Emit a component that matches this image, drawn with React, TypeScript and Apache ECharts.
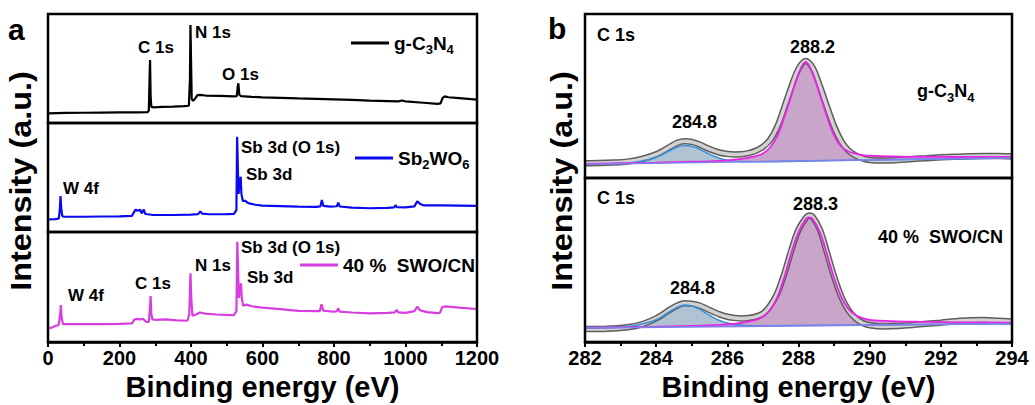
import React, { useEffect, useRef } from 'react';
import * as echarts from 'echarts';

// ---------- Panel a : XPS survey spectra (binding energy eV, intensity a.u.) ----------
const SURVEY_X_MIN = 0;
const SURVEY_X_MAX = 1200;
const SURVEY_X_STEP = 200;

const surveyGCN: number[][] = [
  [0, 8.9], [50, 9.2], [100, 9.4], [150, 9.6], [200, 9.7], [250, 9.8], [278, 9.9], [282, 11.5], [284, 40], [285.5, 57.8],
  [287, 25], [289, 14.8], [295, 14.4], [320, 14.8], [350, 15.0], [380, 15.4], [394, 15.8], [397, 40], [398.5, 89.9],
  [400, 60], [402, 22], [406, 20.5], [412, 22.5], [418, 25.5], [425, 25.8], [440, 25.2], [480, 24.9], [520, 24.5],
  [528, 24.6], [531, 34], [532.5, 36.4], [535, 26], [540, 24.6], [570, 24.0], [600, 23.6], [650, 23.1], [700, 22.6],
  [750, 22.2], [800, 21.7], [850, 21.2], [900, 20.6], [950, 20.1], [980, 19.8], [990, 20.6], [1000, 19.8], [1050, 18.6],
  [1090, 17.5], [1098, 18.0], [1104, 23.0], [1110, 24.4], [1120, 23.6], [1150, 22.8], [1200, 21.5],
];

const surveySWO: number[][] = [
  [0, 11.5], [20, 11.8], [30, 12.2], [33, 20], [35, 33], [37, 22], [40, 14.5], [45, 14.1], [100, 14.0], [150, 14.2],
  [200, 14.4], [235, 14.8], [240, 18], [245, 20.5], [250, 19.5], [258, 20.5], [262, 17], [268, 20.5], [272, 16.5],
  [290, 15.8], [350, 15.6], [400, 16.0], [420, 16.4], [426, 18.8], [432, 16.8], [450, 16.3], [500, 16.4], [520, 16.6],
  [527, 20], [529, 87.4], [531, 60], [533, 35], [536, 45], [539, 50.7], [541, 35], [545, 28.5], [552, 28.5], [560, 26.5],
  [580, 25], [600, 24.2], [650, 23.8], [700, 23.3], [750, 23.0], [762, 23.5], [766, 29.4], [770, 24], [790, 23.2],
  [808, 23.6], [812, 26.9], [816, 23.4], [850, 22.4], [900, 21.8], [950, 22.2], [968, 22.6], [972, 24.5], [976, 22.8],
  [1000, 22.6], [1025, 23.5], [1033, 28.2], [1040, 26], [1050, 24.5], [1100, 24.4], [1150, 24.2], [1200, 24.0],
];

const surveyComposite: number[][] = [
  [0, 12.5], [10, 13.0], [20, 14.5], [30, 15.5], [34, 25], [36, 33.6], [38, 22], [42, 16.3], [100, 16.2], [150, 16.3],
  [200, 16.5], [235, 17.0], [242, 20.5], [250, 21], [258, 20.5], [266, 21.0], [275, 18.2], [282, 18.3], [285, 30],
  [287, 41.8], [289, 26], [292, 20.5], [300, 20.2], [330, 20.5], [360, 19.6], [390, 19.3], [395, 25], [398.5, 62.4],
  [401, 38], [404, 24], [415, 25], [425, 26.8], [440, 25.8], [470, 25.0], [500, 24.6], [520, 24.5], [527, 28],
  [529.5, 91.2], [532, 62], [534, 40], [537, 48], [540, 53.3], [542, 40], [546, 33], [555, 34], [570, 32.5], [600, 31.2],
  [650, 29.8], [700, 28.3], [760, 28.0], [765, 34.2], [770, 28.5], [800, 27.5], [808, 28], [812, 30.6], [816, 27.6],
  [850, 26.8], [900, 26.1], [950, 26.4], [970, 27], [975, 29.1], [980, 27], [1000, 26.5], [1025, 28], [1033, 32.1],
  [1040, 29], [1060, 27.2], [1090, 26.2], [1096, 26.5], [1103, 31.8], [1110, 32.3], [1150, 31.2], [1200, 30.0],
];

// ---------- Panel b : C 1s high-resolution spectra ----------
const C1S_X_MIN = 282;
const C1S_X_MAX = 294;
const C1S_X_STEP = 2;

const c1sGCNRaw: number[][] = [
  [282.0, 9.0], [282.4, 9.1], [282.8, 9.4], [283.2, 10.0], [283.6, 11.6], [284.0, 14.4], [284.2, 16.6], [284.4, 19.2],
  [284.6, 21.5], [284.8, 22.4], [285.0, 22.0], [285.2, 20.6], [285.4, 18.6], [285.6, 16.8], [285.8, 15.4], [286.0, 14.7],
  [286.2, 14.4], [286.4, 14.5], [286.6, 15.2], [286.8, 16.6], [287.0, 19.0], [287.2, 23.2], [287.4, 31.0], [287.6, 43.0],
  [287.8, 55.5], [288.0, 66.5], [288.2, 71.3], [288.4, 67.0], [288.6, 56.0], [288.8, 43.5], [289.0, 31.5], [289.2, 22.5],
  [289.4, 16.8], [289.6, 13.8], [289.8, 12.0], [290.0, 11.0], [290.4, 10.6], [290.8, 11.0], [291.2, 11.6], [291.6, 12.1],
  [292.0, 12.6], [292.4, 13.0], [292.8, 13.3], [293.2, 13.4], [293.6, 13.4], [294.0, 13.1],
];
const c1sGCNPeak1: number[][] = [
  [282.0, 8.5], [283.0, 8.9], [283.4, 9.6], [283.8, 11.2], [284.0, 12.6], [284.2, 14.6], [284.4, 16.9], [284.6, 18.9],
  [284.8, 19.8], [285.0, 19.4], [285.2, 17.8], [285.4, 15.6], [285.6, 13.5], [285.8, 11.9], [286.0, 10.9], [286.4, 10.0],
  [287.0, 9.9], [288.0, 10.3], [290.0, 11.0], [294.0, 12.3],
];
const c1sGCNPeak2: number[][] = [
  [282.0, 8.6], [284.0, 9.4], [285.0, 9.9], [285.6, 10.3], [286.0, 10.8], [286.4, 11.6], [286.8, 13.3], [287.0, 15.0],
  [287.2, 18.6], [287.4, 25.5], [287.6, 37.0], [287.8, 50.5], [288.0, 63.5], [288.2, 70.8], [288.4, 64.0], [288.6, 51.0],
  [288.8, 37.5], [289.0, 26.0], [289.2, 19.2], [289.4, 16.2], [289.6, 14.8], [289.8, 14.0], [290.0, 13.6], [290.6, 13.1],
  [291.5, 12.9], [292.5, 12.8], [294.0, 12.9],
];
const c1sGCNBackground: number[][] = [[282.0, 8.4], [294.0, 12.3]];

const c1sCompRaw: number[][] = [
  [282.0, 7.9], [282.4, 7.9], [282.8, 8.3], [283.2, 9.0], [283.6, 10.8], [284.0, 14.4], [284.2, 17.0], [284.4, 19.9],
  [284.6, 22.3], [284.8, 23.6], [285.0, 23.4], [285.2, 22.4], [285.4, 20.5], [285.6, 18.5], [285.8, 16.7], [286.0, 15.4],
  [286.2, 14.7], [286.4, 14.4], [286.6, 14.7], [286.8, 15.5], [287.0, 17.3], [287.2, 22.0], [287.4, 29.5], [287.6, 41.5],
  [287.8, 56.0], [288.0, 68.5], [288.2, 75.5], [288.3, 77.2], [288.4, 76.2], [288.6, 68.5], [288.8, 54.5], [289.0, 40.0],
  [289.2, 27.8], [289.4, 19.5], [289.6, 14.5], [289.8, 11.6], [290.0, 10.2], [290.4, 9.4], [290.8, 9.7], [291.2, 10.4],
  [291.6, 11.1], [292.0, 11.8], [292.4, 12.6], [292.8, 13.2], [293.2, 13.4], [293.6, 13.0], [294.0, 12.5],
];
const c1sCompPeak1: number[][] = [
  [282.0, 8.6], [283.0, 9.1], [283.4, 10.0], [283.8, 12.0], [284.0, 13.6], [284.2, 16.0], [284.4, 18.8], [284.6, 21.2],
  [284.8, 22.5], [285.0, 22.0], [285.2, 20.2], [285.4, 17.6], [285.6, 15.0], [285.8, 12.9], [286.0, 11.5], [286.4, 10.2],
  [287.0, 9.9], [288.0, 10.1], [290.0, 10.4], [294.0, 11.2],
];
const c1sCompPeak2: number[][] = [
  [282.0, 8.7], [284.0, 9.3], [285.0, 9.8], [285.6, 10.3], [286.0, 10.8], [286.4, 11.7], [286.8, 13.5], [287.0, 15.4],
  [287.2, 19.5], [287.4, 27.0], [287.6, 39.5], [287.8, 54.5], [288.0, 67.0], [288.2, 74.8], [288.3, 76.0], [288.4, 75.0],
  [288.6, 67.0], [288.8, 53.5], [289.0, 39.0], [289.2, 27.5], [289.4, 20.2], [289.6, 16.4], [289.8, 14.5], [290.0, 13.5],
  [290.6, 12.7], [291.5, 12.3], [292.5, 12.0], [294.0, 11.8],
];
const c1sCompBackground: number[][] = [[282.0, 8.6], [294.0, 11.2]];

const SERIES_NAMES = ['g-C3N4', 'Sb2WO6', '40 % SWO/CN'];
const LEGEND_RICH: Record<string, string> = {
  'g-C3N4': 'g-C{s|3}N{s|4}',
  'Sb2WO6': 'Sb{s|2}WO{s|6}',
  '40 % SWO/CN': '40 %  SWO/CN',
};

const FONT = '"Liberation Sans", Arial, Helvetica, sans-serif';
const SUB_RICH = { s: { fontSize: 13, fontWeight: 'bold', fontFamily: FONT, lineHeight: 14, padding: [12, 0, 0, 0] } };

function App() {
  const ref = useRef<HTMLDivElement>(null);

  useEffect(() => {
    if (!ref.current) return;
    const chart = echarts.init(ref.current, null, { renderer: 'svg' });

    const gridBase = { show: true, borderColor: '#000', borderWidth: 2.5, backgroundColor: 'transparent', z: 10 };
    const grids = [
      { ...gridBase, left: 48, top: 14, width: 429, height: 109 },
      { ...gridBase, left: 48, top: 123, width: 429, height: 109 },
      { ...gridBase, left: 48, top: 232, width: 429, height: 110 },
      { ...gridBase, left: 585, top: 14, width: 427, height: 164 },
      { ...gridBase, left: 585, top: 178, width: 427, height: 164 },
    ];

    const hiddenX = (min: number, max: number, step: number, gridIndex: number) => ({
      type: 'value', gridIndex, min, max, interval: step, show: false,
    });
    const shownX = (min: number, max: number, step: number, gridIndex: number) => ({
      type: 'value', gridIndex, min, max, interval: step,
      name: 'Binding energy (eV)', nameLocation: 'middle', nameGap: 30,
      nameTextStyle: { fontSize: 29, fontWeight: 'bold', fontFamily: FONT, color: '#000' },
      axisLine: { show: true, lineStyle: { color: '#000', width: 2.5 } },
      axisTick: { show: true, inside: false, length: 5, lineStyle: { color: '#000', width: 2 } },
      minorTick: { show: true, splitNumber: 2, length: 4, lineStyle: { color: '#000', width: 2 } },
      axisLabel: {
        fontSize: 20, fontWeight: 'bold', fontFamily: FONT, color: '#000', margin: 6,
        formatter: (v: number) => String(v),
      },
      splitLine: { show: false },
    });
    const xAxes = [
      hiddenX(SURVEY_X_MIN, SURVEY_X_MAX, SURVEY_X_STEP, 0),
      hiddenX(SURVEY_X_MIN, SURVEY_X_MAX, SURVEY_X_STEP, 1),
      shownX(SURVEY_X_MIN, SURVEY_X_MAX, SURVEY_X_STEP, 2),
      hiddenX(C1S_X_MIN, C1S_X_MAX, C1S_X_STEP, 3),
      shownX(C1S_X_MIN, C1S_X_MAX, C1S_X_STEP, 4),
    ];
    const yAxes = [0, 1, 2, 3, 4].map((i) => ({ type: 'value', gridIndex: i, min: 0, max: 100, show: false }));

    const surveyColors = ['#000000', '#0a0af0', '#d63ee0'];
    const surveyData = [surveyGCN, surveySWO, surveyComposite];
    const surveySeries = surveyData.map((d, i) => ({
      name: SERIES_NAMES[i], type: 'line', xAxisIndex: i, yAxisIndex: i, data: d, showSymbol: false,
      lineStyle: { color: surveyColors[i], width: 2.2 }, itemStyle: { color: surveyColors[i] }, z: 3,
    }));

    const c1sSets = [
      { raw: c1sGCNRaw, p1: c1sGCNPeak1, p2: c1sGCNPeak2, bg: c1sGCNBackground, axis: 3 },
      { raw: c1sCompRaw, p1: c1sCompPeak1, p2: c1sCompPeak2, bg: c1sCompBackground, axis: 4 },
    ];
    const c1sSeries: any[] = [];
    c1sSets.forEach((s) => {
      const common = { type: 'line', xAxisIndex: s.axis, yAxisIndex: s.axis, showSymbol: false, smooth: 0.35, silent: true };
      c1sSeries.push(
        { ...common, data: s.p1, lineStyle: { width: 0, opacity: 0 }, areaStyle: { color: '#b0c3d2', opacity: 1, origin: 1 } },
        { ...common, data: s.p2, lineStyle: { width: 0, opacity: 0 }, areaStyle: { color: '#c9a5ca', opacity: 1, origin: 1 } },
        { ...common, data: s.bg, smooth: false, lineStyle: { width: 0, opacity: 0 }, areaStyle: { color: '#ffffff', opacity: 1, origin: 1 } },
        { ...common, data: s.raw, lineStyle: { color: '#5e5e5e', width: 6.5 } },
        { ...common, data: s.raw, lineStyle: { color: '#d2d2d2', width: 3.5 } },
        { ...common, data: s.p1, lineStyle: { color: '#3a8fd8', width: 1.6 } },
        { ...common, data: s.p2, lineStyle: { color: '#ea22e6', width: 1.8 } },
        { ...common, data: s.bg, smooth: false, lineStyle: { color: '#8080e8', width: 1.6 } },
      );
    });

    const legendCommon = {
      icon: 'rect', itemWidth: 38, itemHeight: 3, itemGap: 0, selectedMode: false,
      formatter: (name: string) => LEGEND_RICH[name] || name,
      textStyle: { fontSize: 19, fontWeight: 'bold', fontFamily: FONT, color: '#000', lineHeight: 26, rich: SUB_RICH },
    };
    const legends = [
      { ...legendCommon, data: [SERIES_NAMES[0]], left: 346, top: 25 },
      { ...legendCommon, data: [SERIES_NAMES[1]], left: 350, top: 140 },
      { ...legendCommon, data: [SERIES_NAMES[2]], left: 295, top: 247 },
    ];

    const txt = (text: string, x: number, y: number, size = 17, extra: any = {}) => ({
      type: 'text', x, y, z: 20, ...extra,
      style: {
        text, fontSize: size, fontWeight: 'bold', fontFamily: FONT, fill: '#000',
        align: 'left', verticalAlign: 'middle', lineHeight: 26, rich: SUB_RICH,
      },
    });

    const yTitle = (x: number) => ({
      type: 'text', x, y: 181, rotation: Math.PI / 2, scaleX: 1.08, z: 20,
      style: { text: 'Intensity (a.u.)', fontSize: 30, fontWeight: 'bold', fontFamily: FONT, fill: '#000', align: 'center', verticalAlign: 'middle' },
    });

    const annotations = [
      txt('a', 8, 29, 30),
      txt('b', 548, 28, 30),
      txt('C 1s', 138, 47), txt('N 1s', 195, 32), txt('O 1s', 222, 74),
      txt('Sb 3d (O 1s)', 241, 147), txt('Sb 3d', 246, 174), txt('W 4f', 63, 188),
      txt('Sb 3d (O 1s)', 241, 247), txt('N 1s', 195, 265), txt('Sb 3d', 247, 277), txt('C 1s', 135, 283), txt('W 4f', 68, 295),
      txt('C 1s', 597, 35, 18), txt('288.2', 790, 47, 18), txt('284.8', 672, 122, 18), txt('g-C{s|3}N{s|4}', 917, 91, 18),
      txt('C 1s', 597, 198, 18), txt('288.3', 793, 204, 18), txt('284.8', 670, 288, 18), txt('40 %  SWO/CN', 878, 237, 18),
      yTitle(21),
      yTitle(562),
    ];

    chart.setOption({
      animation: false,
      backgroundColor: '#ffffff',
      grid: grids,
      xAxis: xAxes,
      yAxis: yAxes,
      legend: legends,
      series: [...surveySeries, ...c1sSeries],
      graphic: annotations,
    });

    return () => chart.dispose();
  }, []);

  return (
    <div
      ref={ref}
      style={{ position: 'absolute', left: 0, top: 0, width: 1035, height: 405, background: '#fff' }}
    />
  );
}

export default App;
